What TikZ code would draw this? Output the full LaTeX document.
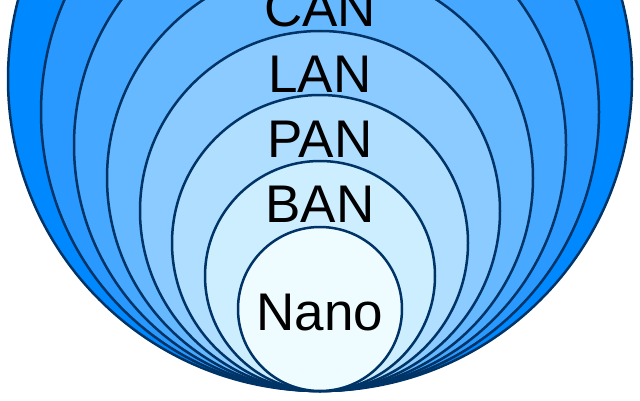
\documentclass[tikz,border=0pt]{standalone}
\usepackage{fontspec}
\setmainfont{Liberation Sans}
\definecolor{c1}{HTML}{0088FF}
\definecolor{c2}{HTML}{2A99FF}
\definecolor{c3}{HTML}{46A8FF}
\definecolor{c4}{HTML}{66B8FF}
\definecolor{c5}{HTML}{8CCBFF}
\definecolor{c6}{HTML}{B0DEFF}
\definecolor{c7}{HTML}{CCEEFF}
\definecolor{c8}{HTML}{EEFCFF}
\definecolor{rim}{HTML}{003366}
\begin{document}
\begin{tikzpicture}[x=1pt,y=1pt,
  ring/.style={draw=rim,line width=2.5pt},
  lbl/.style={anchor=base,inner sep=0pt,font=\fontsize{53}{60}\selectfont,text=black}]
\clip (0,0) rectangle (640,400);
\foreach \r/\c in {312/c1,279/c2,246/c3,213/c4,180/c5,148/c6,115/c7,82/c8}{
  \filldraw[ring,fill=\c] (320,9+\r) circle[radius=\r];
}
\node[lbl] (can) at (320,373) {CAN};
\node[lbl] (lan) at (320,308) {LAN};
\node[lbl] (pan) at (320,243) {PAN};
\node[lbl] (ban) at (320,178) {BAN};
\node[lbl] (nano) at (320,70) {Nano};
\end{tikzpicture}
\end{document}
